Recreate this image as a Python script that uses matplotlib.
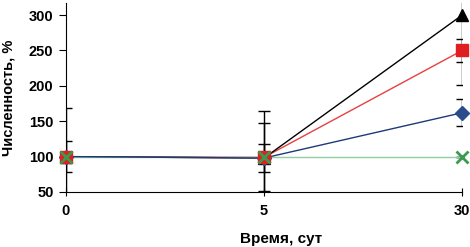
import numpy as np
import matplotlib
matplotlib.use("Agg")
import matplotlib.pyplot as plt

plt.rcParams['font.family'] = ['Liberation Sans', 'DejaVu Sans']

days = ["0", "5", "30"]

black_vals = [100, 98, 300]
black_err = [68, 67, 99]
red_vals = [100, 99, 250]
red_err = [22, 48, 16]
blue_vals = [100, 98, 162]
blue_err = [5, 20, 19]
green_vals = [100, 100, 100]
green_err = [0, 0, 0]

x = np.arange(len(days))

fig = plt.figure(figsize=(4.7, 2.47), dpi=100)
ax = fig.add_axes([0.1404, 0.2227, 0.843, 0.765])

# (values, errors, line colour, marker colour, marker, size, line z)
series = [
    (black_vals, black_err, "black", "black", "^", 9, 3.2),
    (blue_vals, blue_err, "#1f3a78", "#2b4c8c", "D", 7, 3.4),
    (red_vals, red_err, "#e84040", "#e02020", "s", 9, 3.0),
    (green_vals, green_err, "#90d0a0", "#3a9a50", "x", 8, 3.3),
]

for vals, err, lc, mc, mk, ms, lz in series:
    ax.errorbar(x, vals, yerr=err, fmt="none", ecolor="black",
                elinewidth=1, capsize=4, capthick=1, zorder=2)
    ax.plot(x, vals, color=lc, lw=1, zorder=lz)
    ax.plot(x, vals, linestyle="none", marker=mk, ms=ms, color=mc,
            mec=mc, mew=2 if mk == "x" else 1, zorder=4, clip_on=False)

ax.set_xlim(0, 2)
ax.set_ylim(50, 317)
ax.set_yticks([50, 100, 150, 200, 250, 300])
ax.set_xticks(x)
ax.set_xticklabels(days)
ax.spines["top"].set_visible(False)
ax.spines["right"].set_visible(False)
ax.tick_params(axis="y", direction="out", length=5, labelsize=10.5, pad=4)
ax.tick_params(axis="x", direction="inout", length=6, labelsize=10.5, pad=6)
for lab in ax.get_xticklabels() + ax.get_yticklabels():
    lab.set_fontweight("bold")

ax.set_xlabel("Время, сут", fontsize=11, fontweight="bold")
ax.xaxis.set_label_coords(0.543, -0.21)
ax.set_ylabel("Численность, %", fontsize=10.5, fontweight="semibold")
ax.yaxis.set_label_coords(-0.128, 0.5)

fig.savefig("out.png", dpi=100)
